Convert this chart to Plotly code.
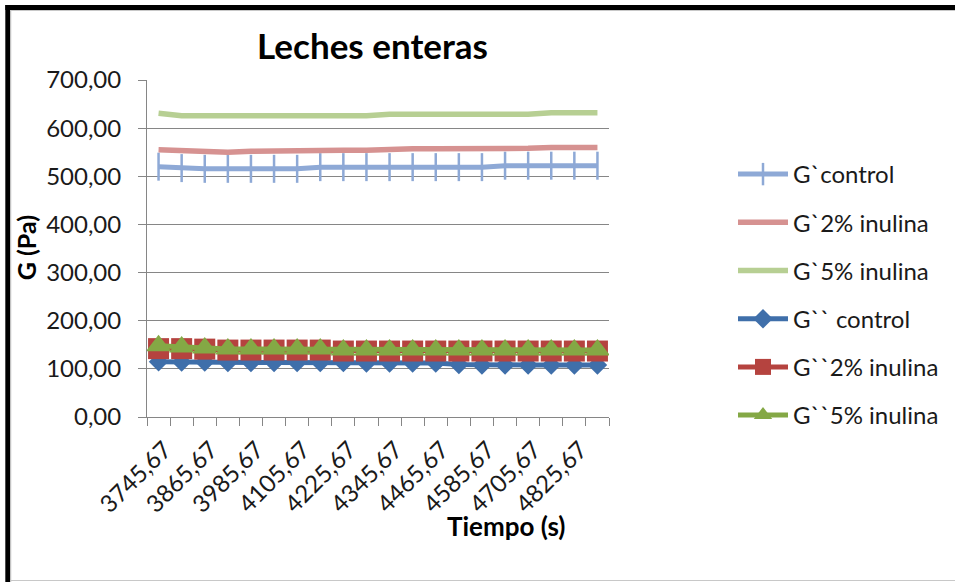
import plotly.graph_objects as go

# ---- data ----
tiempo = [3745.67 + 60 * k for k in range(20)]
categories = [f"{t:.2f}".replace(".", ",") for t in tiempo]

g1_control = [520, 517, 515.5, 515.5, 515.5, 515.5, 515.5, 519, 519, 519,
              519, 519, 519, 519, 519, 522, 522, 522, 522, 522]
g1_2inul = [555, 554, 551, 550, 552, 553, 553, 554, 554, 554,
            556, 557, 557, 557, 557, 558, 558, 560, 560, 560]
g1_5inul = [631, 626, 626, 626, 626, 626, 626, 626, 626, 626,
            629, 629, 629, 629, 629, 629, 629, 632, 632, 632]
g2_control = [115, 114, 114, 113, 113, 113, 113, 113, 113, 112,
              112, 112, 112, 109, 108, 108, 108, 108, 108, 108]
g2_2inul = [142, 142, 141, 139, 139, 139, 139, 139, 137, 137,
            137, 137, 137, 137, 137, 137, 137, 137, 137, 137]
g2_5inul = [148, 145.5, 143.5, 141.5, 141.5, 141.5, 141.5, 141.5, 139, 139,
            139, 139, 139, 139, 139, 139, 139, 139, 139, 139]

y_ticks = [0, 100, 200, 300, 400, 500, 600, 700]

idx = list(range(len(categories)))

W, H = 955, 582
ML, MR, MT, MB = 147, 345, 80, 165
PW, PH = W - ML - MR, H - MT - MB


def px_x(px):
    return (px - ML) / PW


def px_y(py):
    return (H - MB - py) / PH


FONT = "Lato"
TXT = "#1a1a1a"

fig = go.Figure()

series = [
    ("G`control", g1_control, "#8EA9D6", 5, dict(symbol="line-ns", size=20, line=dict(color="#8EA9D6", width=2.5))),
    ("G`2% inulina", g1_2inul, "#D69291", 5.5, None),
    ("G`5% inulina", g1_5inul, "#B7CF93", 5.5, None),
    ("G`` control", g2_control, "#3F6FAA", 5, dict(symbol="diamond", size=15, color="#3F6FAA")),
    ("G``2% inulina", g2_2inul, "#B5433F", 5, dict(symbol="square", size=21, color="#B5433F")),
    ("G``5% inulina", g2_5inul, "#84A845", 5, dict(symbol="triangle-up", size=22, color="#84A845")),
]

for i, (name, vals, col, lw, mk) in enumerate(series):
    kw = dict(mode="lines+markers", marker=mk) if mk else dict(mode="lines")
    fig.add_trace(go.Scatter(
        x=idx, y=vals, name=name,
        line=dict(color=col, width=lw),
        legendgroup=f"g{i}",
        **kw,
    ))

fig.update_layout(
    width=W, height=H,
    margin=dict(l=ML, r=MR, t=MT, b=MB, pad=0),
    paper_bgcolor="white", plot_bgcolor="white",
    separators=",.",
    font=dict(family=FONT, size=24, color=TXT),
    title=dict(text="Leches enteras", x=px_x(373), xref="paper", xanchor="center",
               y=1 - 47 / H, yref="container", yanchor="middle",
               font=dict(family=FONT, size=35, weight="bold", color="black")),
    showlegend=True,
    legend=dict(x=px_x(733), y=px_y(152), xanchor="left", yanchor="top",
                font=dict(family=FONT, size=24, color=TXT),
                traceorder="grouped", tracegroupgap=14,
                bgcolor="rgba(0,0,0,0)", itemwidth=50),
    xaxis=dict(
        range=[-0.5, len(categories) - 0.5],
        tickmode="array", tickvals=idx[::2], ticktext=categories[::2],
        tickangle=-45, ticks="", showgrid=False, zeroline=False,
        showline=True, linecolor="#868686", linewidth=1,
        ticklabelshift=6, ticklabelstandoff=8,
        tickfont=dict(family=FONT, size=24, color=TXT),
        minor=dict(tickmode="linear", tick0=-0.5, dtick=1, ticks="outside",
                   ticklen=8, tickcolor="#868686", tickwidth=1, showgrid=False),
    ),
    yaxis=dict(
        range=[0, 700], tickmode="array", tickvals=y_ticks, tickformat=".2f",
        ticks="outside", ticklen=8, tickcolor="#868686",
        showgrid=True, gridcolor="#868686", gridwidth=1, zeroline=False,
        showline=True, linecolor="#868686", linewidth=1,
        ticklabelstandoff=12,
        tickfont=dict(family=FONT, size=24, color=TXT),
    ),
    annotations=[
        dict(text="G (Pa)", x=px_x(26), y=px_y(248), xref="paper", yref="paper",
             showarrow=False, textangle=-90, xanchor="center", yanchor="middle",
             font=dict(family=FONT, size=25, weight="bold", color="black")),
        dict(text="Tiempo (s)", x=px_x(507), y=px_y(526), xref="paper", yref="paper",
             showarrow=False, xanchor="center", yanchor="middle",
             font=dict(family=FONT, size=26, weight="bold", color="black")),
    ],
    shapes=[
        dict(type="rect", xref="paper", yref="paper", x0=px_x(5), x1=px_x(W + 5),
             y0=px_y(5), y1=px_y(10), fillcolor="black", line=dict(width=0), layer="above"),
        dict(type="rect", xref="paper", yref="paper", x0=px_x(5), x1=px_x(10),
             y0=px_y(5), y1=px_y(H + 5), fillcolor="black", line=dict(width=0), layer="above"),
        dict(type="line", xref="paper", yref="paper", x0=px_x(10), x1=px_x(W + 5),
             y0=px_y(10.5), y1=px_y(10.5), line=dict(color="#c8c8c8", width=1)),
        dict(type="line", xref="paper", yref="paper", x0=px_x(10.5), x1=px_x(10.5),
             y0=px_y(10), y1=px_y(H + 5), line=dict(color="#c8c8c8", width=1)),
        dict(type="line", xref="paper", yref="paper", x0=px_x(10), x1=px_x(W + 5),
             y0=px_y(580.5), y1=px_y(580.5), line=dict(color="#c8c8c8", width=1)),
    ],
)

fig.write_html("out.html",
               config={"displayModeBar": False},
               post_script="document.body.style.margin='0px';document.body.style.overflow='hidden';")
